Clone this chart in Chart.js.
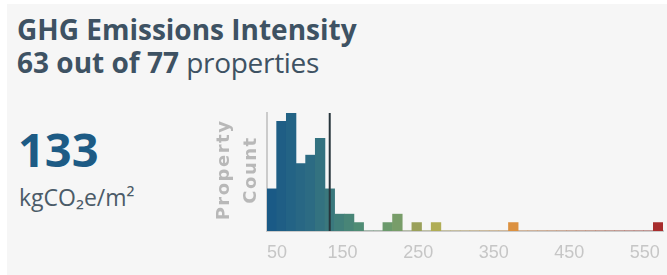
<!DOCTYPE html>
<html>
<head>
<meta charset="utf-8">
<script src="https://cdn.jsdelivr.net/npm/chart.js@4.4.1/dist/chart.umd.min.js"></script>
<style>
    body { margin: 0; background: #ffffff; width: 667px; height: 275px; overflow: hidden; font-family: "Open Sans", sans-serif; }
    .card { position: absolute; left: 7px; top: 4px; width: 660px; height: 271px; background: #f6f6f6; }
    .title { position: absolute; left: 10px; top: 9px; color: #3e5263; font-size: 28px; line-height: 33px; white-space: nowrap; }
    .title b { font-weight: 700; }
    .title span { font-weight: 400; letter-spacing: -0.3px; }
    .big { position: absolute; left: 11px; top: 113px; color: #1d5b85; font-size: 47px; font-weight: 700; }
    .unit { position: absolute; left: 12px; top: 177px; color: #4b5b68; font-size: 23px; }
    #chartWrap { position: absolute; left: 205px; top: 100px; }
</style>
</head>
<body>
<div class="card">
    <div class="title"><b>GHG Emissions Intensity</b><br><b>63 out of 77</b> <span>properties</span></div>
    <div class="big">133</div>
    <div class="unit">kgCO₂e/m²</div>
</div>
<div id="chartWrap"><canvas id="histChart" width="462" height="175"></canvas></div>

<script>
// Histogram bins (41 equal bins between binMin and binMax)
const binMin = 50;
const binMax = 574;
const counts = [5, 13, 14, 8, 9, 11, 5, 2, 2, 1,
                0, 0, 1, 2, 0, 1, 0, 1, 0, 0,
                0, 0, 0, 0, 0, 1, 0, 0, 0, 0,
                0, 0, 0, 0, 0, 0, 0, 0, 0, 0,
                1];
const medianValue = 133;
const xTicks = [50, 150, 250, 350, 450, 550];
const yMax = 14;
const yTitle = ['Property', 'Count'];

// colour ramp blue -> green -> yellow -> orange -> red
const rampStops = [
    [0.0, [26, 90, 134]],
    [0.1, [44, 107, 131]],
    [0.225, [79, 140, 116]],
    [0.3, [107, 154, 108]],
    [0.33, [122, 158, 104]],
    [0.375, [154, 160, 90]],
    [0.425, [176, 173, 85]],
    [0.625, [220, 145, 64]],
    [1.0, [168, 45, 45]]
];

function rampColor(t) {
    for (let i = 1; i < rampStops.length; i++) {
        if (t <= rampStops[i][0]) {
            const a = rampStops[i - 1], b = rampStops[i];
            const f = (t - a[0]) / (b[0] - a[0]);
            const c = a[1].map((v, k) => Math.round(v + (b[1][k] - v) * f));
            return 'rgb(' + c.join(',') + ')';
        }
    }
    return 'rgb(' + rampStops[rampStops.length - 1][1].join(',') + ')';
}

const binWidth = (binMax - binMin) / counts.length;
const barData = counts.map((c, i) => ({ x: binMin + (i + 0.5) * binWidth, y: c }));
const barColors = counts.map((c, i) => rampColor(i / (counts.length - 1)));

// y title drawn with letter spacing
const yTitlePlugin = {
    id: 'yTitle',
    afterDraw(chart) {
        const ctx = chart.ctx;
        const area = chart.chartArea;
        const yc = (area.top + area.bottom) / 2 - 2;
        ctx.save();
        ctx.fillStyle = '#b8b8b8';
        ctx.font = 'bold 18px "DejaVu Sans"';
        if ('letterSpacing' in ctx) ctx.letterSpacing = '1.5px';
        ctx.textAlign = 'center';
        ctx.textBaseline = 'alphabetic';
        [24, 51].forEach((bx, i) => {
            ctx.save();
            ctx.translate(bx, yc);
            ctx.rotate(-Math.PI / 2);
            ctx.fillText(yTitle[i], 0, 0);
            ctx.restore();
        });
        ctx.restore();
    }
};

function initChart() {
    const ctx = document.getElementById('histChart').getContext('2d');
    new Chart(ctx, {
        type: 'bar',
        data: {
            datasets: [{
                type: 'line',
                data: [{ x: medianValue, y: 0 }, { x: medianValue, y: yMax }],
                borderColor: '#27353c',
                borderWidth: 2,
                pointRadius: 0,
                order: 0
            }, {
                type: 'bar',
                data: barData,
                backgroundColor: barColors,
                borderWidth: 0,
                barPercentage: 1,
                categoryPercentage: 1,
                order: 1
            }]
        },
        options: {
            responsive: false,
            animation: false,
            layout: { padding: { top: 13, right: 4, left: 0, bottom: 0 } },
            plugins: {
                legend: { display: false },
                tooltip: { enabled: false }
            },
            scales: {
                x: {
                    type: 'linear',
                    offset: false,
                    min: binMin,
                    max: binMax,
                    afterBuildTicks: (s) => { s.ticks = xTicks.map(v => ({ value: v })); },
                    afterFit: (s) => { s.height = 44; },
                    grid: { display: false },
                    border: { color: '#cbcbcb', width: 2 },
                    ticks: {
                        color: '#c6c6c6',
                        font: { family: '"Liberation Sans"', size: 18 },
                        padding: 3,
                        maxRotation: 0,
                        autoSkip: false,
                        // first label sits inside the axis start
                        callback: (v, i) => i === 0 ? '\u2007\u2007' + v : String(v)
                    }
                },
                y: {
                    min: 0,
                    max: yMax,
                    afterFit: (s) => { s.width = 62; },
                    grid: { display: false },
                    border: { color: '#cbcbcb', width: 2 },
                    ticks: { display: false }
                }
            }
        },
        plugins: [yTitlePlugin]
    });
}

initChart();
</script>
</body>
</html>
